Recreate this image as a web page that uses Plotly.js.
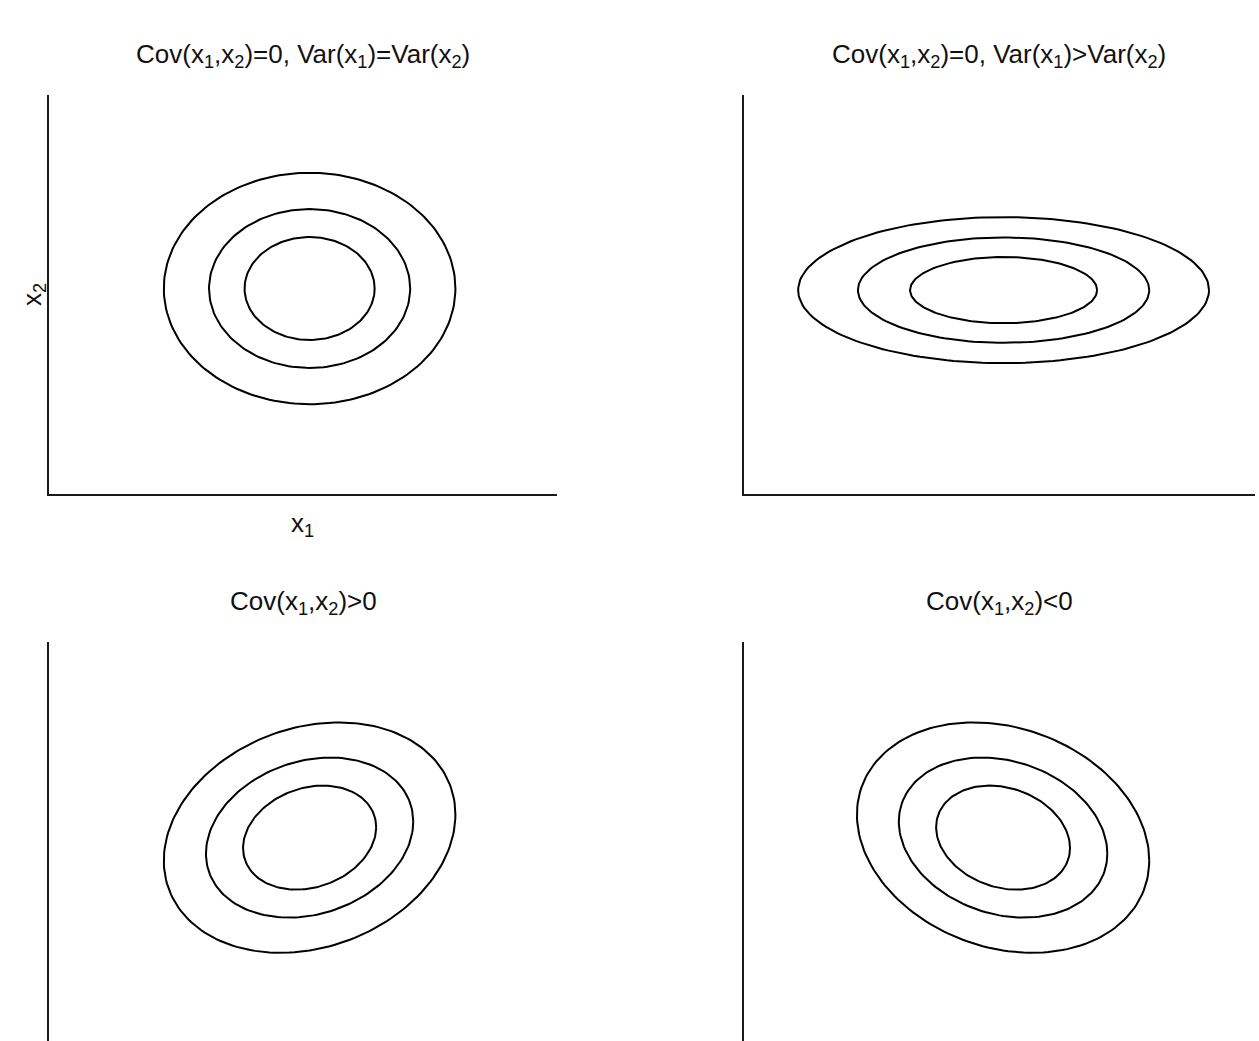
<!DOCTYPE html>
<html>
<head>
<meta charset="utf-8">
<script src="https://cdn.plot.ly/plotly-3.0.1.min.js"></script>
<style>
  html, body { margin: 0; padding: 0; background: #fff; overflow: hidden; }
  #chart { width: 1259px; height: 1100px; }
</style>
</head>
<body>
<div id="chart"></div>
<script>
// panel titles, top-left, top-right, bottom-left, bottom-right
const panelTitles = [
    'Cov(x<sub>1</sub>,x<sub>2</sub>)=0, Var(x<sub>1</sub>)=Var(x<sub>2</sub>)',
    'Cov(x<sub>1</sub>,x<sub>2</sub>)=0, Var(x<sub>1</sub>)&gt;Var(x<sub>2</sub>)',
    'Cov(x<sub>1</sub>,x<sub>2</sub>)&gt;0',
    'Cov(x<sub>1</sub>,x<sub>2</sub>)&lt;0'
];

// contour centres (axis units, 0..10)
const centerX = [5.13, 5.08, 5.13, 5.07];
const centerY = [5.15, 5.11, 5.11, 5.11];

// half-extent of each contour along x1 and x2 (outer, middle, inner)
const radiusX = [
    [2.87, 1.98, 1.28],
    [4.02, 2.85, 1.83],
    [2.87, 2.04, 1.31],
    [2.86, 2.04, 1.31]
];
const radiusY = [
    [2.90, 1.99, 1.29],
    [1.83, 1.32, 0.83],
    [2.88, 2.00, 1.30],
    [2.88, 2.00, 1.30]
];
const correlation = [0, 0, 0.2, -0.2];

const axisRange = [0, 10];

const W = 1259, H = 1100;
const font = { family: '"Liberation Sans", Arial, sans-serif', size: 26, color: '#111' };

// pixel box of each panel: [left, right, top, bottom]
const boxes = [
    [49, 557, 95, 494],
    [744, 1255, 95, 494],
    [49, 557, 642, 1042],
    [744, 1255, 642, 1042]
];

function ellipse(cx, cy, ex, ey, rho) {
    const xs = [], ys = [];
    const s = Math.sqrt(1 - rho * rho);
    for (let i = 0; i <= 180; i++) {
        const t = i / 180 * 2 * Math.PI;
        xs.push(cx + ex * Math.cos(t));
        ys.push(cy + ey * (rho * Math.cos(t) + s * Math.sin(t)));
    }
    return { xs, ys };
}

const traces = [];
panelTitles.forEach((_, p) => {
    const suffix = p === 0 ? '' : String(p + 1);
    radiusX[p].forEach((rx, k) => {
        const e = ellipse(centerX[p], centerY[p], rx, radiusY[p][k], correlation[p]);
        traces.push({
            x: e.xs,
            y: e.ys,
            xaxis: 'x' + suffix,
            yaxis: 'y' + suffix,
            type: 'scatter',
            mode: 'lines',
            line: { color: '#000', width: 2 },
            hoverinfo: 'skip',
            showlegend: false
        });
    });
});

const layout = {
    width: W,
    height: H,
    margin: { l: 0, r: 0, t: 0, b: 0 },
    paper_bgcolor: '#fff',
    plot_bgcolor: '#fff',
    showlegend: false,
    annotations: []
};

boxes.forEach((b, p) => {
    const suffix = p === 0 ? '' : String(p + 1);
    const axisStyle = {
        range: axisRange,
        showline: true,
        linecolor: '#1a1a1a',
        linewidth: 2,
        showgrid: false,
        zeroline: false,
        showticklabels: false,
        ticks: '',
        fixedrange: true
    };
    layout['xaxis' + suffix] = Object.assign({}, axisStyle, {
        domain: [b[0] / W, b[1] / W],
        anchor: 'y' + suffix
    });
    layout['yaxis' + suffix] = Object.assign({}, axisStyle, {
        domain: [1 - b[3] / H, 1 - b[2] / H],
        anchor: 'x' + suffix
    });
    layout.annotations.push({
        text: panelTitles[p],
        xref: 'paper', yref: 'paper',
        x: (b[0] + b[1]) / 2 / W,
        y: 1 - (b[2] - 40) / H,
        xanchor: 'center', yanchor: 'middle',
        showarrow: false,
        font: font
    });
});

// axis labels, first panel only
layout.annotations.push({
    text: 'x<sub>1</sub>',
    xref: 'paper', yref: 'paper',
    x: 302 / W, y: 1 - 524 / H,
    xanchor: 'center', yanchor: 'middle',
    showarrow: false,
    font: font
});
layout.annotations.push({
    text: 'x<sub>2</sub>',
    xref: 'paper', yref: 'paper',
    x: 33 / W, y: 1 - 295 / H,
    xanchor: 'center', yanchor: 'middle',
    textangle: -90,
    showarrow: false,
    font: font
});

Plotly.newPlot('chart', traces, layout, { displayModeBar: false, staticPlot: true });
</script>
</body>
</html>
